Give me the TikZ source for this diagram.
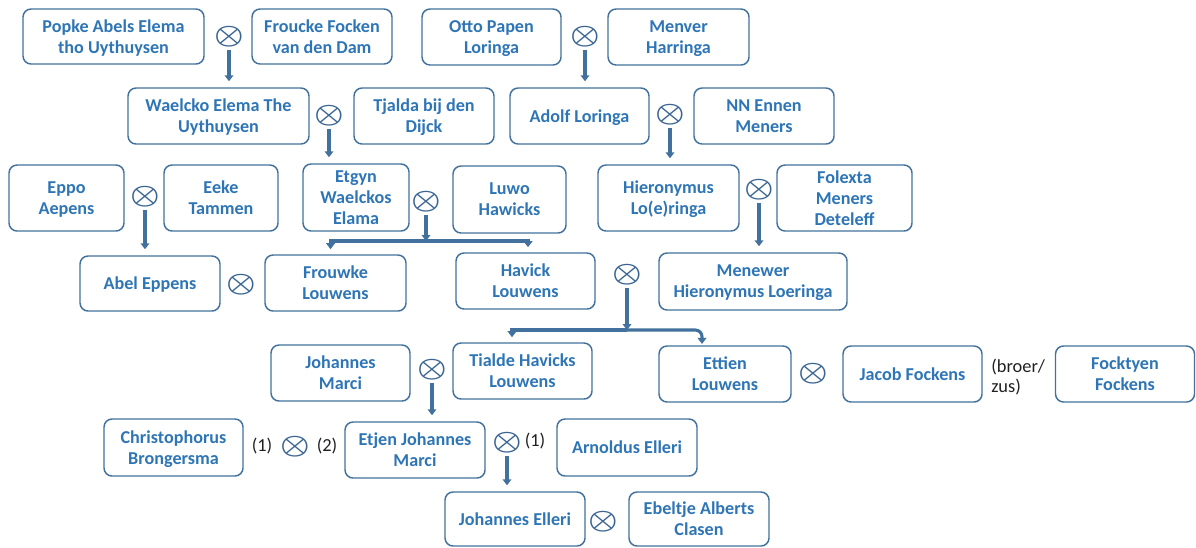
\documentclass[tikz,border=0pt]{standalone}
\usepackage{fontspec}
\usepackage{bm}
\setmainfont{Carlito}
\usetikzlibrary{arrows.meta,calc}
\definecolor{boxline}{HTML}{41719C}
\definecolor{boxtext}{HTML}{2E75B6}
\definecolor{arrowc}{HTML}{41719C}
\definecolor{marc}{HTML}{3A6593}
\definecolor{lblc}{HTML}{202020}
\begin{document}
\begin{tikzpicture}[x=0.75pt,y=-0.75pt,
  person/.style 2 args={draw=boxline, line width=1.1pt, rounded corners=6pt,
    text=boxtext, font=\fontsize{13.6}{15.9}\selectfont\bfseries, align=center,
    inner sep=0pt, minimum width=#1*0.75pt, minimum height=#2*0.75pt,
    text depth=0pt},
  mar/.style={font=\fontsize{23}{23}\selectfont, text=marc, inner sep=0pt,
    yscale=0.82, transform shape},
  lbl/.style={font=\fontsize{13.8}{15.6}\selectfont, text=lblc, inner sep=0pt, align=left},
  arr/.style={draw=arrowc, line width=2.3pt, -{Triangle[width=6.5pt,length=4.5pt]},
    shorten <=2pt, shorten >=4.5pt},
  brarr/.style={draw=arrowc, line width=2.3pt, -{Triangle[width=6.5pt,length=4.5pt]},
    shorten >=3.8pt}
]
\useasboundingbox (0,0) rectangle (1196,547);

% row 1
\node[person={181}{55}] (popke) at (113.5,36.5) {Popke Abels Elema\\tho Uythuysen};
\node[person={140}{55}] (froucke) at (322,36.5) {Froucke Focken\\van den Dam};
\node[person={139}{56}] (otto) at (491.5,37) {Otto Papen\\Loringa};
\node[person={141}{56}] (menver) at (678.5,37) {Menver\\Harringa};
% row 2
\node[person={181}{56}] (waelcko) at (218.5,116) {Waelcko Elema The\\Uythuysen};
\node[person={140}{56}] (tjalda) at (424,116) {Tjalda bij den\\Dijck};
\node[person={139}{56}] (adolf) at (579.5,116) {Adolf Loringa};
\node[person={140}{56}] (nnennen) at (764,116) {NN Ennen\\Meners};
% row 3
\node[person={115}{66}] (eppo) at (66.5,198) {Eppo\\Aepens};
\node[person={114}{66}] (eeke) at (221,198) {Eeke\\Tammen};
\node[person={106}{67}] (etgyn) at (356,197.5) {Etgyn\\Waelckos\\Elama};
\node[person={113}{67}] (luwo) at (509.5,199.5) {Luwo\\Hawicks};
\node[person={141}{66}] (hieronymus) at (668.5,198) {Hieronymus\\Lo(e)ringa};
\node[person={135}{66}] (folexta) at (844.5,198) {Folexta\\Meners\\Deteleff};
% row 4
\node[person={140}{55}] (abel) at (150,283.5) {Abel Eppens};
\node[person={141}{56}] (frouwke) at (335.5,283) {Frouwke\\Louwens};
\node[person={139}{56}] (havick) at (525.5,281) {Havick\\Louwens};
\node[person={188}{57}] (menewer) at (753,281.5) {Menewer\\Hieronymus Loeringa};
% row 5
\node[person={139}{56}] (johmarci) at (340.5,373) {Johannes\\Marci};
\node[person={139}{56}] (tialde) at (522.5,371) {Tialde Havicks\\Louwens};
\node[person={132}{56}] (ettien) at (725,374) {Ettien\\Louwens};
\node[person={139}{56}] (jacob) at (912.5,374) {Jacob Fockens};
\node[person={139}{56}] (focktyen) at (1125,374) {Focktyen\\Fockens};
% row 6
\node[person={139}{57}] (christ) at (173.5,447.5) {Christophorus\\Brongersma};
\node[person={140}{56}] (etjen) at (415,450) {Etjen Johannes\\Marci};
\node[person={140}{57}] (arnoldus) at (627,447.5) {Arnoldus Elleri};
% row 7
\node[person={140}{54}] (johelleri) at (515,519) {Johannes Elleri};
\node[person={140}{54}] (ebeltje) at (699,519) {Ebeltje Alberts\\Clasen};

% marriages
\node[mar] (m1) at (229,37) {$\bm{\otimes}$};
\node[mar] (m2) at (585,37) {$\bm{\otimes}$};
\node[mar] (m3) at (329,116) {$\bm{\otimes}$};
\node[mar] (m4) at (670,115) {$\bm{\otimes}$};
\node[mar] (m5) at (145,197) {$\bm{\otimes}$};
\node[mar] (m6) at (426,202) {$\bm{\otimes}$};
\node[mar] (m7) at (759,190) {$\bm{\otimes}$};
\node[mar] (m8) at (241,285) {$\bm{\otimes}$};
\node[mar] (m9) at (627,275) {$\bm{\otimes}$};
\node[mar] (m10) at (432,370) {$\bm{\otimes}$};
\node[mar] (m11) at (813,374) {$\bm{\otimes}$};
\node[mar] (m12) at (295,447) {$\bm{\otimes}$};
\node[mar] (m13) at (507,443) {$\bm{\otimes}$};
\node[mar] (m14) at (603,522) {$\bm{\otimes}$};

% labels
\node[lbl] (l1) at (262,446) {(1)};
\node[lbl] (l2) at (327,446) {(2)};
\node[lbl] (l3) at (535,441) {(1)};
\node[lbl, anchor=west] (l4) at (991,377) {(broer/\\zus)};

% arrows
\draw[arr] (m1.south) -- (m1.south |- waelcko.north);
\draw[arr] (m2.south) -- (m2.south |- adolf.north);
\draw[arr] (m3.south) -- (m3.south |- etgyn.north);
\draw[arr] (m4.south) -- (m4.south |- hieronymus.north);
\draw[arr] (m5.south) -- (m5.south |- abel.north);
\draw[arr] (m7.south) -- (m7.south |- menewer.north);
\draw[arr] (m10.south) -- (m10.south |- etjen.north);
\draw[arr] (m13.south) -- (m13.south |- johelleri.north);

% branch from Etgyn x Luwo
\coordinate (j1) at (426,241);
\draw[arr, shorten >=0pt] (m6.south) -- (j1);
\draw[brarr] (j1) -| ($(frouwke.north)+(-5,0)$);
\draw[brarr] (j1) -| ($(havick.north)+(2.5,0)$);

% branch from Havick x Menewer
\coordinate (j2) at (627,330);
\draw[arr, shorten >=0pt] (m9.south) -- (j2);
\draw[brarr] (j2) -| ($(tialde.north)+(-10.5,0)$);
\draw[brarr, rounded corners=5pt, shorten >=1pt] (j2) -| ($(ettien.north)+(-23,0)$);
\end{tikzpicture}
\end{document}
